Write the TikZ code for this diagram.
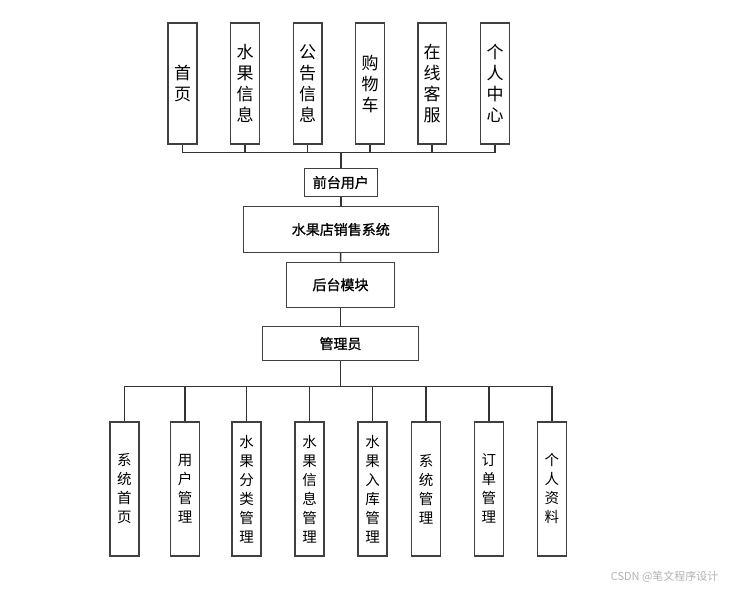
\documentclass[tikz,border=0pt]{standalone}
\usepackage{fontspec}
\setmainfont{Noto Sans CJK SC}
\newfontfamily\midfont[RawFeature={embolden=1.2}]{Noto Sans CJK SC}
\usetikzlibrary{positioning}

\begin{document}
\begin{tikzpicture}[
  x=1pt,y=-1pt,
  box/.style={draw=black!75,line width=1.5pt,inner sep=0pt,align=center},
  topbox/.style={box,minimum width=28.6pt,minimum height=121pt,
    font=\fontsize{17}{21}\selectfont},
  subbox/.style={box,minimum width=29pt,minimum height=134pt,
    font=\fontsize{14.5}{19}\selectfont},
  midbox/.style={box,font=\fontsize{14}{16}\midfont},
  link/.style={draw=black!80,line width=1.5pt}
]
  \useasboundingbox (0,0) rectangle (734,591);

  % front-end modules
  \node[topbox] (home)   at (182.5,83.7) {首\\页};
  \node[topbox] (fruit)  at (245,83.7)   {水\\果\\信\\息};
  \node[topbox] (notice) at (307.7,83.7) {公\\告\\信\\息};
  \node[topbox] (cart)   at (370,83.7)   {购\\物\\车};
  \node[topbox] (chat)   at (432.2,83.7) {在\\线\\客\\服};
  \node[topbox] (mine)   at (495,83.7)   {个\\人\\中\\心};

  % main chain
  \node[midbox,minimum width=73pt,minimum height=28.4pt]    (front)  at (340.8,182.5) {前台用户};
  \node[midbox,minimum width=195pt,minimum height=45.6pt]   (system) at (340.8,229.5) {水果店销售系统};
  \node[midbox,minimum width=107.6pt,minimum height=45pt]   (back)   at (340.5,284.8) {后台模块};
  \node[midbox,minimum width=155.6pt,minimum height=34pt]   (admin)  at (340.5,343.7) {管理员};

  % back-end modules
  \node[subbox] (syshome) at (124.3,488.8) {系\\统\\首\\页};
  \node[subbox] (users)   at (185,488.8)   {用\\户\\管\\理};
  \node[subbox] (kinds)   at (246.5,488.8) {水\\果\\分\\类\\管\\理};
  \node[subbox] (fruits)  at (309.7,488.8) {水\\果\\信\\息\\管\\理};
  \node[subbox] (stock)   at (372.7,488.8) {水\\果\\入\\库\\管\\理};
  \node[subbox] (sysman)  at (426.2,488.8) {系\\统\\管\\理};
  \node[subbox] (orders)  at (488.8,488.8) {订\\单\\管\\理};
  \node[subbox] (profile) at (551.8,488.8) {个\\人\\资\\料};

  \coordinate (topbus) at (340.8,152.7);
  \coordinate (subbus) at (340.5,386.7);

  \draw[link] (home.south) |- (topbus) -| (mine.south);
  \draw[link] (fruit.south) -- (fruit.south |- topbus);
  \draw[link] (notice.south) -- (notice.south |- topbus);
  \draw[link] (cart.south) -- (cart.south |- topbus);
  \draw[link] (chat.south) -- (chat.south |- topbus);
  \draw[link] (topbus) -- (front.north);

  \draw[link] (front) -- (system);
  \draw[link] (system) -- (back);
  \draw[link] (back) -- (admin);

  \draw[link] (admin.south) -- (subbus);
  \draw[link] (syshome.north) |- (subbus) -| (profile.north);
  \draw[link] (users.north) -- (users.north |- subbus);
  \draw[link] (kinds.north) -- (kinds.north |- subbus);
  \draw[link] (fruits.north) -- (fruits.north |- subbus);
  \draw[link] (stock.north) -- (stock.north |- subbus);
  \draw[link] (sysman.north) -- (sysman.north |- subbus);
  \draw[link] (orders.north) -- (orders.north |- subbus);

  \node[text=black!30,font=\fontsize{11}{13}\selectfont,anchor=east] (mark) at (722,577) {CSDN @笔文程序设计};
\end{tikzpicture}
\end{document}
